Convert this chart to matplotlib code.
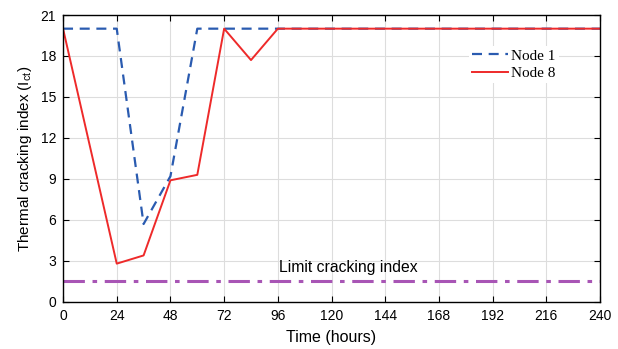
import matplotlib
matplotlib.use("Agg")
import matplotlib.pyplot as plt

# Time axis (hours) and thermal cracking index per node
hours = [0, 24, 36, 48, 60, 72, 84, 96, 120, 144, 168, 192, 216, 240]
node1 = [20, 20, 5.7, 9.2, 20, 20, 20, 20, 20, 20, 20, 20, 20, 20]
node8 = [20, 2.8, 3.4, 8.9, 9.3, 20, 17.7, 20, 20, 20, 20, 20, 20, 20]
limit_index = 1.5

x_ticks = list(range(0, 241, 24))
y_ticks = list(range(0, 22, 3))

plt.rcParams['font.family'] = ['Liberation Sans', 'DejaVu Sans']

fig = plt.figure(figsize=(6.18, 3.49), dpi=100)
ax = fig.add_axes([0.102, 0.135, 0.869, 0.822])

ax.plot(hours, node1, color='#2a5bb0', linestyle=(0, (4.5, 3)), lw=1.6, label='Node 1')
ax.plot(hours, node8, color='#ee2a2a', linestyle='-', lw=1.4, label='Node 8')
ax.axhline(limit_index, color='#a855b5', linestyle=(0, (7, 2.5, 1.5, 2.5)), lw=2.2)
ax.text(96.5, 2.0, 'Limit cracking index', fontsize=11.3, ha='left', va='bottom')

ax.set_xlim(0, 240)
ax.set_ylim(0, 21)
ax.set_xticks(x_ticks)
ax.set_yticks(y_ticks)
ax.grid(True, color='#dddddd', lw=0.8)
ax.set_axisbelow(True)
ax.tick_params(direction='in', top=True, right=True, labelsize=10, length=4, width=0.8, pad=5)
for s in ax.spines.values():
    s.set_linewidth(1.0)

ax.set_xlabel('Time (hours)', fontsize=11.5, labelpad=5)
ax.set_ylabel('Thermal cracking index (I$_{\\mathregular{ct}}$)', fontsize=11, labelpad=5)

leg = ax.legend(loc='upper left', bbox_to_anchor=(0.755, 0.892), frameon=True,
                edgecolor='none', fancybox=False, framealpha=1,
                prop={'family': 'Liberation Serif', 'size': 11},
                handlelength=2.4, handletextpad=0.2, labelspacing=0.25,
                borderpad=0.2, borderaxespad=0)

fig.savefig('out.png', dpi=100)
